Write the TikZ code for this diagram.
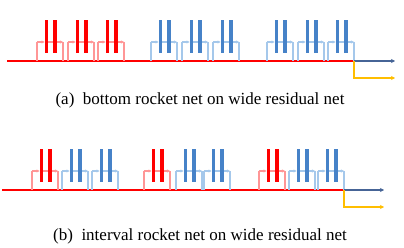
\documentclass[tikz,border=0pt]{standalone}
\usepackage{fontspec}
\setmainfont{Liberation Serif}
\usetikzlibrary{arrows.meta}
\definecolor{barred}{RGB}{255,0,0}
\definecolor{brred}{RGB}{255,150,150}
\definecolor{barblue}{RGB}{70,130,200}
\definecolor{brblue}{RGB}{165,200,235}
\definecolor{outblue}{RGB}{70,100,150}
\definecolor{outorange}{RGB}{255,190,0}
\newcommand\rocketblock[5]{%
  \node[bar=#4] (#1a) at (#2+9.5,#3-24.5) {};
  \node[bar=#4] (#1b) at (#2+18,#3-24.5) {};
  \coordinate (#1l) at (#2,#3);
  \coordinate (#1r) at (#2+26,#3);
  \coordinate (#1p) at (#2,#3-19);
  \coordinate (#1q) at (#2+26,#3-19);
  \draw[brline=#5] (#1l) -- (#1p);
  \draw[brline=#5,-{Stealth[length=3pt,width=3pt]}] (#1p) -- (#1p -| #1a.west);
  \draw[brline=#5] (#1p -| #1a.east) -- (#1p -| #1b.west);
  \draw[brline=#5,-{Stealth[length=3pt,width=3pt]}] (#1p -| #1b.east) -- (#1q);
  \draw[brline=#5] (#1q) -- (#1r);
}
\begin{document}
\begin{tikzpicture}[x=1pt,y=-1pt,
  bar/.style={fill=#1,draw=none,minimum width=3.5pt,minimum height=33pt,inner sep=0pt},
  brline/.style={draw=#1,line width=1.2pt},
  mainline/.style={draw=barred,line width=1.6pt},
  outline/.style={line width=1.6pt,-{Stealth[length=4pt,width=4pt]}},
  caption/.style={font=\fontsize{17}{20}\selectfont,inner sep=0pt}]
\useasboundingbox (0,0) rectangle (404,248);
% panel (a)
\coordinate (as) at (7,61);
\coordinate (ak) at (354,61);
\coordinate (ae) at (395,61);
\coordinate (ao) at (395,78);
\draw[mainline] (as) -- (ak);
\rocketblock{a1}{37}{61}{barred}{brred}
\rocketblock{a2}{68}{61}{barred}{brred}
\rocketblock{a3}{98}{61}{barred}{brred}
\rocketblock{a4}{151}{61}{barblue}{brblue}
\rocketblock{a5}{182}{61}{barblue}{brblue}
\rocketblock{a6}{213}{61}{barblue}{brblue}
\rocketblock{a7}{267}{61}{barblue}{brblue}
\rocketblock{a8}{298}{61}{barblue}{brblue}
\rocketblock{a9}{328}{61}{barblue}{brblue}
\draw[outline,outblue] (ak) -- (ae);
\draw[outline,outorange] (ak) |- (ao);
\node[caption] (capa) at (200,100) {(a)\ \ bottom rocket net on wide residual net};
% panel (b)
\coordinate (bs) at (2,190);
\coordinate (bk) at (344,190);
\coordinate (be) at (384,190);
\coordinate (bo) at (384,207);
\draw[mainline] (bs) -- (bk);
\rocketblock{b1}{32}{190}{barred}{brred}
\rocketblock{b2}{62}{190}{barblue}{brblue}
\rocketblock{b3}{92}{190}{barblue}{brblue}
\rocketblock{b4}{144}{190}{barred}{brred}
\rocketblock{b5}{176}{190}{barblue}{brblue}
\rocketblock{b6}{204}{190}{barblue}{brblue}
\rocketblock{b7}{259}{190}{barred}{brred}
\rocketblock{b8}{289}{190}{barblue}{brblue}
\rocketblock{b9}{318}{190}{barblue}{brblue}
\draw[outline,outblue] (bk) -- (be);
\draw[outline,outorange] (bk) |- (bo);
\node[caption] (capb) at (200,236) {(b)\ \ interval rocket net on wide residual net};
\end{tikzpicture}
\end{document}
